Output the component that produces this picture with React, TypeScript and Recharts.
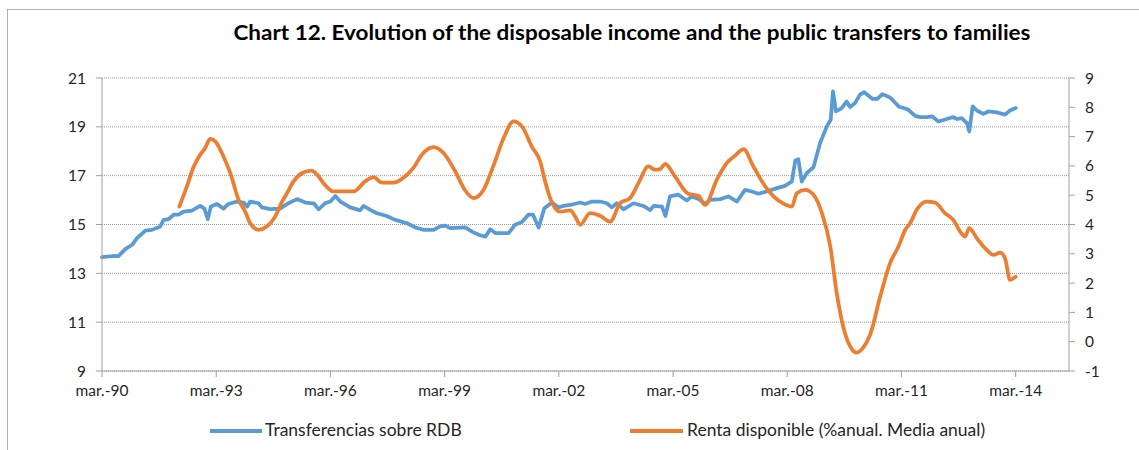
import React from "react";
import { LineChart, Line, XAxis, YAxis, CartesianGrid } from "recharts";

const TITLE = "Chart 12. Evolution of the disposable income and the public transfers to families";
const SERIES_BLUE = "Transferencias sobre RDB";
const SERIES_ORANGE = "Renta disponible (%anual. Media anual)";

const xTicks = [1990, 1993, 1996, 1999, 2002, 2005, 2008, 2011, 2014];
const leftTicks = [9, 11, 13, 15, 17, 19, 21];
const rightTicks = [-1, 0, 1, 2, 3, 4, 5, 6, 7, 8, 9];

// dates as decimal years (1990.00 = mar.-90)
const blueDates = [
  1990.0, 1990.3, 1990.43, 1990.61, 1990.79, 1990.92, 1991.14, 1991.31, 1991.53, 1991.62,
  1991.75, 1991.88, 1992.01, 1992.14, 1992.36, 1992.58, 1992.69, 1992.78, 1992.86, 1993.02,
  1993.19, 1993.32, 1993.55, 1993.72, 1993.81, 1993.89, 1994.11, 1994.2, 1994.42, 1994.68,
  1994.86, 1995.12, 1995.34, 1995.56, 1995.69, 1995.86, 1996.0, 1996.13, 1996.26, 1996.52,
  1996.78, 1996.87, 1997.05, 1997.22, 1997.48, 1997.7, 1998.01, 1998.23, 1998.45, 1998.71,
  1998.88, 1999.02, 1999.15, 1999.54, 1999.72, 1999.89, 2000.07, 2000.2, 2000.33, 2000.68,
  2000.85, 2001.03, 2001.2, 2001.32, 2001.47, 2001.62, 2001.82, 2001.99, 2002.12, 2002.3,
  2002.56, 2002.69, 2002.87, 2003.08, 2003.26, 2003.39, 2003.52, 2003.7, 2003.96, 2004.22,
  2004.4, 2004.49, 2004.71, 2004.8, 2004.92, 2005.14, 2005.36, 2005.49, 2005.67, 2005.84,
  2005.97, 2006.24, 2006.45, 2006.68, 2006.89, 2007.07, 2007.24, 2007.46, 2007.73, 2007.94,
  2008.12, 2008.21, 2008.29, 2008.38, 2008.51, 2008.69, 2008.86, 2009.04, 2009.14, 2009.2,
  2009.28, 2009.43, 2009.56, 2009.65, 2009.78, 2009.91, 2010.02, 2010.24, 2010.36, 2010.5,
  2010.7, 2010.94, 2011.16, 2011.36, 2011.49, 2011.67, 2011.8, 2011.97, 2012.19, 2012.36,
  2012.46, 2012.58, 2012.72, 2012.78, 2012.87, 2012.98, 2013.15, 2013.28, 2013.5, 2013.72,
  2013.85, 2014.0,
];
const blueValues = [
  13.66, 13.71, 13.7, 13.99, 14.17, 14.44, 14.75, 14.78, 14.92, 15.19,
  15.22, 15.4, 15.4, 15.53, 15.57, 15.76, 15.65, 15.22, 15.74, 15.84,
  15.65, 15.84, 15.94, 15.9, 15.73, 15.94, 15.87, 15.7, 15.63, 15.65,
  15.84, 16.04, 15.9, 15.87, 15.62, 15.87, 15.94, 16.17, 15.94, 15.7,
  15.58, 15.76, 15.6, 15.46, 15.35, 15.19, 15.05, 14.88, 14.78, 14.78,
  14.92, 14.95, 14.85, 14.88, 14.71, 14.58, 14.5, 14.81, 14.65, 14.65,
  14.99, 15.1, 15.4, 15.4, 14.88, 15.67, 15.9, 15.7, 15.76, 15.8,
  15.9, 15.84, 15.94, 15.94, 15.87, 15.7, 15.87, 15.62, 15.87, 15.76,
  15.59, 15.76, 15.73, 15.35, 16.15, 16.22, 15.98, 16.15, 16.04, 15.84,
  16.01, 16.04, 16.15, 15.94, 16.42, 16.35, 16.26, 16.35, 16.49, 16.58,
  16.76, 17.62, 17.67, 16.76, 17.1, 17.35, 18.33, 19.02, 19.29, 20.45,
  19.63, 19.77, 20.04, 19.81, 19.97, 20.32, 20.42, 20.14, 20.14, 20.34,
  20.2, 19.82, 19.72, 19.45, 19.4, 19.4, 19.43, 19.22, 19.32, 19.4,
  19.32, 19.36, 19.15, 18.81, 19.84, 19.67, 19.53, 19.63, 19.59, 19.5,
  19.67, 19.77,
];

const orangeDates = [
  1992.03, 1992.23, 1992.41, 1992.58, 1992.71, 1992.84, 1992.98, 1993.19, 1993.37, 1993.59,
  1993.76, 1993.89, 1994.11, 1994.33, 1994.55, 1994.73, 1994.86, 1995.03, 1995.25, 1995.51,
  1995.65, 1995.82, 1996.08, 1996.3, 1996.61, 1996.91, 1997.13, 1997.35, 1997.66, 1997.96,
  1998.18, 1998.4, 1998.71, 1998.97, 1999.28, 1999.54, 1999.76, 2000.02, 2000.28, 2000.55,
  2000.81, 2001.03, 2001.29, 2001.51, 2001.64, 2001.77, 2002.03, 2002.3, 2002.43, 2002.56,
  2002.82, 2003.08, 2003.35, 2003.61, 2003.87, 2004.09, 2004.35, 2004.53, 2004.66, 2004.79,
  2005.05, 2005.4, 2005.67, 2005.84, 2006.15, 2006.41, 2006.63, 2006.85, 2007.11, 2007.42,
  2007.64, 2007.9, 2008.12, 2008.25, 2008.47, 2008.69, 2008.91, 2009.13, 2009.3, 2009.47,
  2009.7, 2009.81, 2010.0, 2010.18, 2010.44, 2010.7, 2010.92, 2011.1, 2011.23, 2011.4,
  2011.66, 2011.88, 2012.14, 2012.36, 2012.54, 2012.67, 2012.78, 2012.98, 2013.24, 2013.41,
  2013.59, 2013.72, 2013.85, 2014.0,
];
const orangeValues = [
  4.61, 5.3, 5.98, 6.38, 6.61, 6.92, 6.83, 6.32, 5.75, 4.84,
  4.44, 4.05, 3.82, 3.93, 4.27, 4.78, 5.07, 5.47, 5.75, 5.84,
  5.7, 5.41, 5.13, 5.13, 5.13, 5.47, 5.62, 5.43, 5.43, 5.64,
  5.93, 6.38, 6.64, 6.44, 5.81, 5.16, 4.9, 5.18, 6.0, 6.95,
  7.52, 7.35, 6.66, 6.15, 5.47, 4.9, 4.44, 4.48, 4.27, 3.99,
  4.39, 4.3, 4.1, 4.73, 4.9, 5.41, 5.98, 5.87, 5.89, 6.07,
  5.64, 5.05, 4.98, 4.67, 5.53, 6.1, 6.35, 6.57, 5.98, 5.3,
  4.96, 4.71, 4.61, 5.07, 5.18, 5.01, 4.39, 3.25, 1.65, 0.51,
  -0.26, -0.37, -0.19, 0.25, 1.54, 2.68, 3.25, 3.82, 4.05, 4.5,
  4.78, 4.75, 4.39, 4.16, 3.76, 3.59, 3.88, 3.53, 3.13, 2.96,
  3.04, 2.85, 2.11, 2.22,
];

const blueData = blueDates.map((d, i) => ({ date: d, value: blueValues[i] }));
const orangeData = orangeDates.map((d, i) => ({ date: d, value: orangeValues[i] }));

const BLUE = "#5B9BD5";
const ORANGE = "#ED7D31";
const FONT = "Lato, 'Open Sans', sans-serif";
const TICK = { fill: "#262626", fontSize: 15.5, fontFamily: FONT };
const AXIS = "#A0A0A0";

const fmtX = (v: number) => "mar.-" + String(v).slice(2);

export default function App() {
  return (
    <div style={{ position: "absolute", left: 0, top: 0, width: 1139, height: 450, background: "#fff", overflow: "hidden" }}>
      <div style={{ position: "absolute", left: 7, top: 9, width: 1200, height: 500, borderLeft: "1px solid #B0B0B0", borderTop: "1px solid #B0B0B0" }} />
      <svg style={{ position: "absolute", left: 0, top: 0 }} width={1139} height={60}>
        <text x={632} y={40} textAnchor="middle" fontFamily={FONT} fontWeight={700} fontSize={20} fill="#000" textLength={797} lengthAdjust="spacingAndGlyphs">
          {TITLE}
        </text>
      </svg>
      <div style={{ position: "absolute", left: 0, top: 0 }}>
        <LineChart width={1139} height={450} margin={{ top: 78, right: 10, bottom: 49, left: 42 }}>
          <CartesianGrid yAxisId="left" vertical={false} stroke="#9A9A9A" strokeDasharray="1 1" />
          <XAxis
            dataKey="date"
            type="number"
            domain={[1990, 2015.4]}
            ticks={xTicks}
            tickFormatter={fmtX}
            allowDuplicatedCategory={false}
            height={30}
            stroke={AXIS}
            tickSize={6}
            tickMargin={8}
            tick={TICK}
          />
          <YAxis
            yAxisId="left"
            orientation="left"
            domain={[9, 21]}
            ticks={leftTicks}
            width={60}
            stroke={AXIS}
            tickSize={6}
            tickMargin={10}
            tick={TICK}
          />
          <YAxis
            yAxisId="right"
            orientation="right"
            domain={[-1, 9]}
            ticks={rightTicks}
            width={60}
            stroke={AXIS}
            tickSize={6}
            tickMargin={10}
            tick={TICK}
          />
          <Line yAxisId="left" data={blueData} dataKey="value" type="linear" stroke={BLUE} strokeWidth={3.75} dot={false} isAnimationActive={false} strokeLinejoin="round" strokeLinecap="round" />
          <Line yAxisId="right" data={orangeData} dataKey="value" type="monotone" stroke={ORANGE} strokeWidth={3.75} dot={false} isAnimationActive={false} strokeLinejoin="round" strokeLinecap="round" />
        </LineChart>
      </div>
      <div style={{ position: "absolute", left: 0, top: 418, width: 1139, height: 26, fontFamily: FONT, fontSize: 17.5, color: "#262626" }}>
        <div style={{ position: "absolute", left: 210, top: 11, width: 52, height: 4, background: BLUE }} />
        <div style={{ position: "absolute", left: 265, top: 1, whiteSpace: "nowrap" }}>{SERIES_BLUE}</div>
        <div style={{ position: "absolute", left: 630, top: 11, width: 53, height: 4, background: ORANGE }} />
        <div style={{ position: "absolute", left: 687, top: 1, whiteSpace: "nowrap" }}>{SERIES_ORANGE}</div>
      </div>
    </div>
  );
}
